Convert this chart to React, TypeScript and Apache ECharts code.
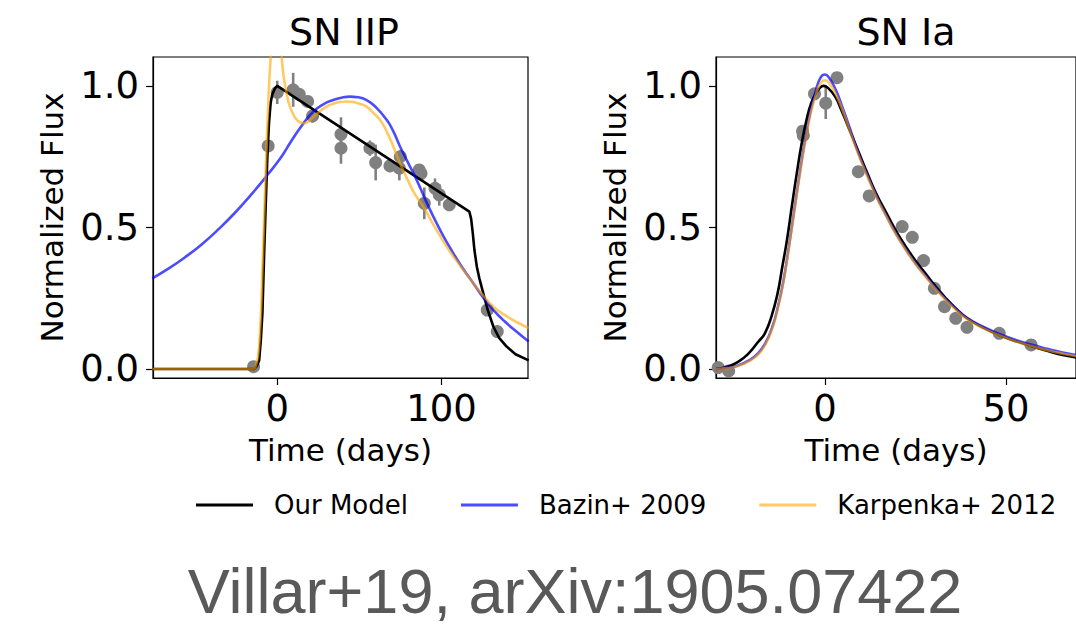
import React, { useEffect, useRef } from "react";
import * as echarts from "echarts";

// ---------- SN IIP ----------
const iipObsDay = [-14.4, -5.5, 0, 9.7, 13.4, 18.5, 21.5, 38.8, 38.8, 56.4, 59.9, 68.6, 74.3, 74.9, 86.4, 87.5, 89.5, 96, 98.6, 104.7, 127.8, 133.9];
const iipObsFlux = [0.008, 0.788, 0.977, 0.986, 0.97, 0.945, 0.894, 0.829, 0.78, 0.78, 0.729, 0.717, 0.709, 0.75, 0.703, 0.69, 0.585, 0.638, 0.615, 0.58, 0.208, 0.132];
const iipObsErr = [0.012, 0.015, 0.041, 0.06, 0.02, 0.02, 0.024, 0.06, 0.055, 0.027, 0.063, 0.015, 0.043, 0.024, 0.02, 0.02, 0.056, 0.035, 0.038, 0.015, 0.02, 0.02];

const iipOurDay = [-76, -14, -12.5, -11, -10, -9, -8, -7, -6, -5, -4, -3, -1.5, 0, 116.9, 118, 119, 120, 121.5, 123, 125.4, 128, 131.5, 135, 139.6, 145, 153];
const iipOurFlux = [0, 0, 0.01, 0.03, 0.1, 0.2, 0.4, 0.58, 0.75, 0.87, 0.94, 0.97, 0.99, 1.0, 0.556, 0.53, 0.48, 0.42, 0.36, 0.32, 0.267, 0.21, 0.15, 0.11, 0.079, 0.052, 0.03];

const iipBazDay = [-76, -66, -56, -46, -36, -26, -16, -6, 2, 8, 15, 21.9, 28, 34.1, 39, 44.2, 49, 54.4, 60, 66.6, 70.6, 74.7, 79.5, 84.8, 90, 95, 101, 107.1, 113, 119.3, 125, 131.6, 138, 145, 153];
const iipBazFlux = [0.32, 0.355, 0.395, 0.44, 0.492, 0.55, 0.615, 0.685, 0.745, 0.8, 0.86, 0.909, 0.935, 0.95, 0.958, 0.962, 0.96, 0.95, 0.925, 0.88, 0.84, 0.786, 0.73, 0.668, 0.6, 0.538, 0.47, 0.409, 0.355, 0.303, 0.255, 0.208, 0.17, 0.135, 0.097];

const iipKarDay = [-76, -40, -20, -15, -13, -11, -9, -7, -5, -4, -3, -1, 1, 2.7, 4, 5.7, 7.5, 9.7, 12, 15.8, 18.5, 21.9, 26, 30, 34, 38.2, 42.2, 46.3, 50, 54.4, 58, 62.5, 66.5, 70.6, 74.7, 80, 84, 88.9, 95, 103.1, 110, 119.3, 125, 131.5, 140, 146, 153];
const iipKarFlux = [0, 0, 0, 0, 0.01, 0.08, 0.35, 0.7, 1.0, 1.1, 1.22, 1.3, 1.2, 1.1, 1.03, 0.974, 0.93, 0.9, 0.88, 0.868, 0.872, 0.89, 0.91, 0.927, 0.937, 0.943, 0.945, 0.943, 0.937, 0.927, 0.907, 0.88, 0.84, 0.786, 0.727, 0.66, 0.615, 0.574, 0.51, 0.432, 0.375, 0.303, 0.262, 0.22, 0.185, 0.165, 0.144];

// ---------- SN Ia ----------
const iaObsDay = [-29.5, -26.6, -6.2, -6.0, -2.9, 0.2, 3.3, 9.2, 12.2, 21.3, 24.1, 27.2, 30.2, 33, 36.1, 39.2, 48.1, 56.9];
const iaObsFlux = [0.005, -0.007, 0.84, 0.825, 0.972, 0.939, 1.029, 0.697, 0.611, 0.503, 0.465, 0.383, 0.285, 0.22, 0.179, 0.147, 0.126, 0.085];
const iaObsErr = [0.01, 0.01, 0.015, 0.015, 0.01, 0.056, 0.01, 0.01, 0.01, 0.01, 0.01, 0.01, 0.01, 0.01, 0.01, 0.01, 0.01, 0.01];

const iaOurDay = [-30.1, -27, -24, -21.1, -18.5, -16.6, -14.8, -13.1, -11.8, -10.5, -9.1, -7.8, -6.4, -5.1, -3.8, -2.5, -1.4, -0.4, 0.8, 2.8, 4.5, 6.4, 9, 11.7, 14.3, 17, 19.6, 22.3, 25, 27.7, 30.3, 33, 36, 39.2, 43.5, 48.1, 52.5, 56.9, 61, 65.6, 70];
const iaOurFlux = [0, 0.008, 0.025, 0.055, 0.095, 0.126, 0.185, 0.267, 0.36, 0.456, 0.58, 0.691, 0.8, 0.88, 0.94, 0.974, 0.993, 1.0, 0.993, 0.962, 0.915, 0.856, 0.775, 0.691, 0.615, 0.55, 0.488, 0.432, 0.382, 0.338, 0.295, 0.255, 0.215, 0.179, 0.147, 0.12, 0.099, 0.081, 0.065, 0.049, 0.04];

const iaFitDay = [-30.1, -27, -24, -21, -18.5, -16.5, -14.5, -13, -11.5, -10, -8.5, -7, -5.5, -4, -2.5, -1.2, 0, 1.3, 3, 4.8, 6.6, 9, 11.7, 14.3, 17, 19.6, 22.3, 25, 27.7, 30.3, 33, 36, 39.2, 43.5, 48.1, 52.5, 56.9, 61, 65.6, 70];
const iaBazFlux = [0.0, 0.004, 0.012, 0.03, 0.055, 0.09, 0.15, 0.22, 0.31, 0.43, 0.56, 0.69, 0.81, 0.91, 0.985, 1.03, 1.04, 1.025, 0.985, 0.925, 0.86, 0.77, 0.685, 0.608, 0.54, 0.478, 0.423, 0.373, 0.33, 0.29, 0.252, 0.215, 0.181, 0.15, 0.124, 0.103, 0.086, 0.072, 0.058, 0.048];
const iaKarFlux = [0.0, 0.003, 0.01, 0.027, 0.05, 0.085, 0.145, 0.215, 0.305, 0.425, 0.555, 0.685, 0.8, 0.9, 0.97, 1.01, 1.02, 1.008, 0.97, 0.915, 0.85, 0.765, 0.68, 0.605, 0.537, 0.475, 0.42, 0.37, 0.326, 0.286, 0.248, 0.21, 0.176, 0.145, 0.119, 0.098, 0.081, 0.067, 0.054, 0.044];

// ---------- labels ----------
const panelTitles = ["SN IIP", "SN Ia"];
const seriesNames = ["Our Model", "Bazin+ 2009", "Karpenka+ 2012"];
const yTicks = [0, 0.5, 1.0];
const xTicksIIP = [0, 100];
const xTicksIa = [0, 50];
const footnote = "Villar+19, arXiv:1905.07422";

const FONT = "DejaVu Sans";
const BLACK = "#000000";
const BLUE = "rgba(0,0,255,0.7)";
const ORANGE = "rgba(255,165,0,0.6)";
const GRAY = "#808080";

const zip2 = (a: number[], b: number[]) => a.map((v, i) => [v, b[i]]);
const zip3 = (a: number[], b: number[], c: number[]) => a.map((v, i) => [v, b[i], c[i]]);

export default function App() {
  const ref = useRef<HTMLDivElement>(null);
  useEffect(() => {
    if (!ref.current) return;
    const chart = echarts.init(ref.current, null, { renderer: "svg" });

    const grids = [
      { left: 153, top: 57, width: 375, height: 321 },
      { left: 716, top: 57, width: 374, height: 321 },
    ];
    const xRanges = [
      [-75.6, 152.6],
      [-30.1, 69.3],
    ];
    const xTicks = [xTicksIIP, xTicksIa];

    const xAxis = grids.map((_, i) => ({
      type: "value",
      gridIndex: i,
      min: xRanges[i][0],
      max: xRanges[i][1],
      name: "Time (days)",
      nameLocation: "middle",
      nameGap: 56,
      nameTextStyle: { fontFamily: FONT, fontSize: 31, color: BLACK },
      axisLine: { show: true, onZero: false, lineStyle: { color: BLACK, width: 1.2 } },
      axisTick: { show: true, inside: false, length: 7, customValues: xTicks[i], lineStyle: { color: BLACK, width: 1.2 } },
      axisLabel: { show: true, margin: 12, customValues: xTicks[i], fontFamily: FONT, fontSize: 37, color: BLACK, formatter: (v: number) => String(Math.round(v)) },
      splitLine: { show: false },
    }));
    const yAxis = grids.map((_, i) => ({
      type: "value",
      gridIndex: i,
      min: -0.032,
      max: 1.102,
      name: "Normalized Flux",
      nameLocation: "middle",
      nameGap: 86,
      nameTextStyle: { fontFamily: FONT, fontSize: 31, color: BLACK },
      axisLine: { show: true, onZero: false, lineStyle: { color: BLACK, width: 1.2 } },
      axisTick: { show: true, inside: false, length: 7, customValues: yTicks, lineStyle: { color: BLACK, width: 1.2 } },
      axisLabel: { show: true, margin: 14, customValues: yTicks, fontFamily: FONT, fontSize: 37, color: BLACK, formatter: (v: number) => v.toFixed(1) },
      splitLine: { show: false },
    }));

    const errBar = (idx: number, data: number[][]) => ({
      type: "custom",
      name: "err" + idx,
      xAxisIndex: idx,
      yAxisIndex: idx,
      encode: { x: 0, y: 1 },
      data,
      clip: true,
      renderItem: (_p: any, api: any) => {
        const x = api.value(0), y = api.value(1), e = api.value(2);
        const a = api.coord([x, y - e]);
        const b = api.coord([x, y + e]);
        return { type: "line", shape: { x1: a[0], y1: a[1], x2: b[0], y2: b[1] }, style: { stroke: GRAY, lineWidth: 2.6 } };
      },
      silent: true,
    });
    const pts = (idx: number, data: number[][]) => ({
      type: "scatter",
      name: "obs" + idx,
      xAxisIndex: idx,
      yAxisIndex: idx,
      data,
      symbol: "circle",
      symbolSize: 13,
      itemStyle: { color: GRAY, opacity: 1 },
      clip: true,
      silent: true,
    });
    const curve = (idx: number, name: string, color: string, data: number[][], smooth: boolean) => ({
      type: "line",
      name,
      xAxisIndex: idx,
      yAxisIndex: idx,
      data,
      color,
      showSymbol: false,
      symbol: "none",
      smooth: smooth ? 0.5 : false,
      clip: true,
      lineStyle: { color, width: 2.6 },
      silent: true,
    });

    const option: any = {
      animation: false,
      backgroundColor: "#ffffff",
      title: panelTitles.map((t, i) => ({
        text: t,
        left: i === 0 ? 339 : 901,
        top: 8,
        textAlign: "center",
        textStyle: { fontFamily: FONT, fontSize: 38, fontWeight: "normal", color: BLACK },
      })),
      grid: grids.map((g) => ({ ...g, show: true, borderColor: BLACK, borderWidth: 1.2, backgroundColor: "transparent", containLabel: false })),
      xAxis,
      yAxis,
      legend: {
        show: true,
        data: seriesNames,
        left: 191,
        top: 485,
        orient: "horizontal",
        icon: "rect",
        itemWidth: 57,
        itemHeight: 3,
        itemGap: 53,
        selectedMode: false,
        textStyle: { fontFamily: FONT, fontSize: 26, color: BLACK, padding: [0, 0, 0, 16], lineHeight: 30 },
      },
      series: [
        errBar(0, zip3(iipObsDay, iipObsFlux, iipObsErr)),
        pts(0, zip2(iipObsDay, iipObsFlux)),
        curve(0, seriesNames[0], BLACK, zip2(iipOurDay, iipOurFlux), false),
        curve(0, seriesNames[1], BLUE, zip2(iipBazDay, iipBazFlux), true),
        curve(0, seriesNames[2], ORANGE, zip2(iipKarDay, iipKarFlux), true),
        errBar(1, zip3(iaObsDay, iaObsFlux, iaObsErr)),
        pts(1, zip2(iaObsDay, iaObsFlux)),
        curve(1, seriesNames[0], BLACK, zip2(iaOurDay, iaOurFlux), true),
        curve(1, seriesNames[1], BLUE, zip2(iaFitDay, iaBazFlux), true),
        curve(1, seriesNames[2], ORANGE, zip2(iaFitDay, iaKarFlux), true),
      ],
      graphic: [
        {
          type: "text",
          x: 575,
          y: 591,
          silent: true,
          style: { text: footnote, font: '63px "Liberation Sans"', fill: "#595959", align: "center", verticalAlign: "middle" },
        },
      ],
    };
    chart.setOption(option);
    return () => chart.dispose();
  }, []);

  return (
    <div style={{ position: "fixed", left: 0, top: 0, width: 1076, height: 628, overflow: "hidden", background: "#fff" }}>
      <div ref={ref} style={{ width: 1076, height: 628 }} />
    </div>
  );
}
